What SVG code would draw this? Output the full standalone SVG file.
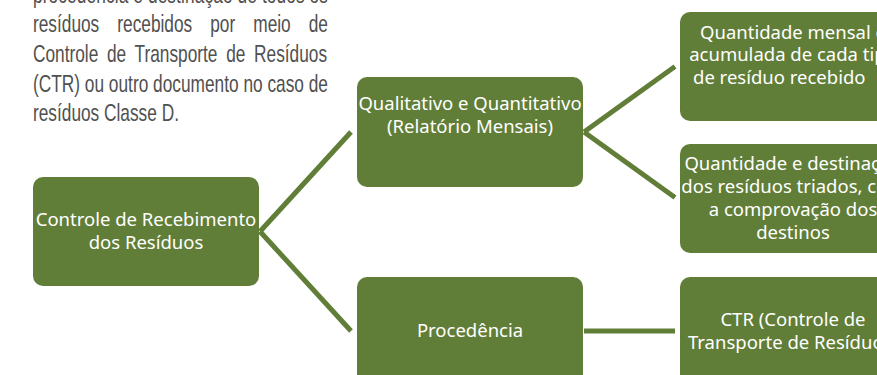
<svg xmlns="http://www.w3.org/2000/svg" width="877" height="375" viewBox="0 0 877 375">
<style>
.node rect{fill:#617e38;}
.node text{font-family:"Noto Sans","Open Sans",sans-serif;font-size:18.5px;fill:#ffffff;text-anchor:middle;}
.conn line{stroke:#617e38;stroke-width:5;stroke-linecap:butt;fill:none;}
.para text{font-family:"Liberation Sans",Arial,sans-serif;font-size:24px;fill:#505050;}
</style>
<rect x="0" y="0" width="877" height="375" fill="#ffffff"/>
<g id="paragraph" class="para" transform="scale(0.72 1)">
<text x="45.83" y="3" textLength="409.7" lengthAdjust="spacing">procedência e destinação de todos os</text>
<text x="45.83" y="32" style="word-spacing:18.4px">resíduos recebidos por meio de</text>
<text x="45.83" y="62" style="word-spacing:5.4px">Controle de Transporte de Resíduos</text>
<text x="45.83" y="92" textLength="409.7" lengthAdjust="spacing">(CTR) ou outro documento no caso de</text>
<text x="45.83" y="121">resíduos Classe D.</text>
</g>
<g id="connectors" class="conn">
<line x1="260" y1="231.5" x2="351" y2="132"/>
<line x1="260" y1="231.5" x2="351" y2="331"/>
<line x1="584" y1="132" x2="675" y2="66.5"/>
<line x1="584" y1="132" x2="675" y2="197.5"/>
<line x1="584" y1="331" x2="675" y2="331"/>
</g>
<g id="node-controle" class="node">
<rect x="33" y="177" width="226" height="109" rx="10"/>
<text x="146" y="226">Controle de Recebimento</text>
<text x="146" y="249">dos Resíduos</text>
</g>
<g id="node-qualitativo" class="node">
<rect x="357" y="77" width="226" height="110" rx="10"/>
<text x="470" y="110">Qualitativo e Quantitativo</text>
<text x="470" y="133">(Relatório Mensais)</text>
</g>
<g id="node-procedencia" class="node">
<rect x="357" y="277" width="226" height="110" rx="10"/>
<text x="470" y="336.5">Procedência</text>
</g>
<g id="node-quantidade-mensal" class="node">
<rect x="680" y="12" width="226" height="109" rx="10"/>
<text x="793" y="38.5">Quantidade mensal e</text>
<text x="793" y="61">acumulada de cada tipo</text>
<text x="693" y="83.5" style="text-anchor:start">de resíduo recebido</text>
</g>
<g id="node-quantidade-destinacao" class="node">
<rect x="680" y="144" width="226" height="109" rx="10"/>
<text x="793" y="169.5">Quantidade e destinação</text>
<text x="793" y="192.5">dos resíduos triados, com</text>
<text x="793" y="215.5">a comprovação dos</text>
<text x="793" y="238.5">destinos</text>
</g>
<g id="node-ctr" class="node">
<rect x="680" y="277" width="226" height="110" rx="10"/>
<text x="793" y="325.5">CTR (Controle de</text>
<text x="793" y="348.5">Transporte de Resíduos)</text>
</g>
</svg>
